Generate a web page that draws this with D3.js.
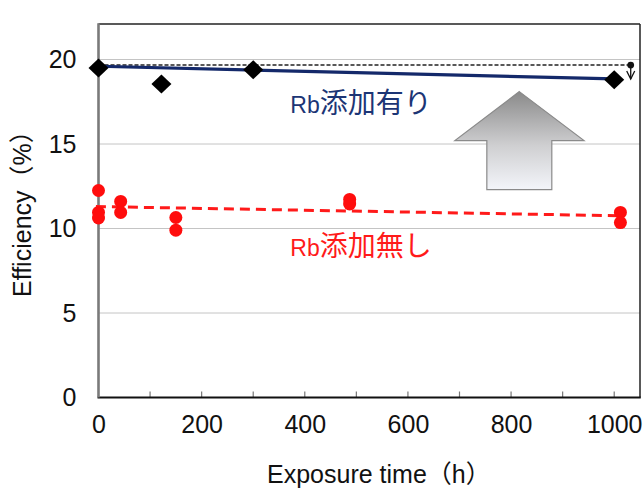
<!DOCTYPE html>
<html><head><meta charset="utf-8">
<script src="https://cdn.jsdelivr.net/npm/d3@7"></script>
<style>
html,body{margin:0;padding:0;background:#fff;}
svg{display:block;}
text{font-family:"Liberation Sans",Arial,"Noto Sans CJK JP",sans-serif;}
</style></head>
<body><svg id="c" width="644" height="489"></svg>
<script>
// ---- data ----
const xTicks = [0, 200, 400, 600, 800, 1000];
const xMinorTicks = [100, 200, 300, 400, 500, 600, 700, 800, 900, 1000];
const yTicks = [0, 5, 10, 15, 20];
const rbHours = [0, 122, 300, 1000];
const rbEff = [19.5, 18.55, 19.4, 18.8];
const noRbHours = [0, 0, 0, 43, 43, 150, 150, 487, 487, 1012, 1012];
const noRbEff = [12.25, 10.95, 10.62, 11.6, 10.95, 10.65, 9.9, 11.72, 11.45, 10.95, 10.35];
const rbFit = [[0, 19.6], [1000, 18.85]];
const noRbFit = [[-5, 11.3], [1015, 10.75]];
const initialLevel = [[0, 19.67], [1030, 19.67]];
const labelRbLatin = "Rb", labelRbJa = "添加有り";
const labelNoRbLatin = "Rb", labelNoRbJa = "添加無し";
const xTitle = "Exposure time（h）";
const yTitle = "Efficiency（%）";

// ---- scales ----
const svg = d3.select("#c");
const x = d3.scaleLinear().domain([0, 1050]).range([98.5, 640]);
const y = d3.scaleLinear().domain([0, 20]).range([397.5, 59.5]);
const yTop = 22.1;

// defs
const defs = svg.append("defs");
const grad = defs.append("linearGradient").attr("id","ag").attr("x1",0).attr("y1",0).attr("x2",0).attr("y2",1);
grad.append("stop").attr("offset","0%").attr("stop-color","#8a8a8a");
grad.append("stop").attr("offset","55%").attr("stop-color","#cfcfd1");
grad.append("stop").attr("offset","100%").attr("stop-color","#f3f5fa");

// gridlines
svg.append("g").selectAll("line").data(yTicks.filter(d=>d>0)).join("line")
  .attr("x1", x(0)).attr("x2", x(1050)).attr("y1", d=>y(d)).attr("y2", d=>y(d))
  .attr("stroke", "#c4c4c4").attr("stroke-width", 1);

// frame top/right
svg.append("line").attr("x1", x(0)).attr("x2", x(1050)).attr("y1", y(yTop)).attr("y2", y(yTop))
  .attr("stroke", "#222").attr("stroke-width", 1.5);
svg.append("line").attr("x1", x(1050)).attr("x2", x(1050)).attr("y1", y(yTop)).attr("y2", y(0))
  .attr("stroke", "#222").attr("stroke-width", 1.5);

// x axis
const xAxis = d3.axisBottom(x).tickValues(xTicks).tickSize(0).tickPadding(18).tickFormat(d3.format("d"));
const gx = svg.append("g").attr("transform", `translate(0,${y(0)})`).call(xAxis);
gx.select(".domain").remove();
gx.selectAll("text").attr("font-size", 25).attr("fill", "#111");
svg.append("g").selectAll("line").data(xMinorTicks).join("line")
  .attr("x1", d=>x(d)).attr("x2", d=>x(d)).attr("y1", y(0)).attr("y2", y(0)-6)
  .attr("stroke", "#777").attr("stroke-width", 1.2);
svg.append("line").attr("x1", x(0)-1).attr("x2", x(1050)+0.75).attr("y1", y(0)).attr("y2", y(0))
  .attr("stroke", "#111").attr("stroke-width", 2.2);

// y axis
const yAxis = d3.axisLeft(y).tickValues(yTicks).tickSize(0).tickPadding(22);
const gy = svg.append("g").attr("transform", `translate(${x(0)},0)`).call(yAxis);
gy.select(".domain").remove();
gy.selectAll("text").attr("font-size", 25).attr("fill", "#111");
svg.append("line").attr("x1", x(0)).attr("x2", x(0)).attr("y1", y(yTop)-0.75).attr("y2", y(0))
  .attr("stroke", "#7a7a7a").attr("stroke-width", 2.6);

// axis titles
svg.append("text").attr("x", 267).attr("y", 483).attr("text-anchor","start")
  .attr("font-size", 25).attr("fill", "#111").text(xTitle);
svg.append("text").attr("transform", "translate(31,297) rotate(-90)").attr("text-anchor","start")
  .attr("font-size", 25).attr("fill", "#111").text(yTitle);

// block arrow (annotation, in data coords)
const arrowPts = [[816,18.1],[941.5,15.2],[879,15.2],[879,12.3],[753,12.3],[753,15.2],[691,15.2]];
svg.append("polygon").attr("points", arrowPts.map(p=>[x(p[0]),y(p[1])].join(",")).join(" "))
  .attr("fill", "url(#ag)").attr("stroke", "#8a8a8a").attr("stroke-width", 1.2);

// initial level dashed line
const line = d3.line().x(d=>x(d[0])).y(d=>y(d[1]));
svg.append("path").attr("d", line(initialLevel)).attr("fill","none")
  .attr("stroke", "#222").attr("stroke-width", 1.5).attr("stroke-dasharray", "4,2");

// small down arrow
const ax = 1032;
svg.append("circle").attr("cx", x(ax)).attr("cy", y(19.67)).attr("r", 3.4).attr("fill", "#111");
svg.append("line").attr("x1", x(ax)).attr("x2", x(ax)).attr("y1", y(19.67)).attr("y2", y(18.85))
  .attr("stroke", "#111").attr("stroke-width", 1.3);
svg.append("path").attr("d", `M${x(ax)-4},${y(18.85)-8} L${x(ax)},${y(18.85)} L${x(ax)+4},${y(18.85)-8}`)
  .attr("fill","none").attr("stroke","#111").attr("stroke-width",1.3);

// red fit line
svg.append("path").attr("d", line(noRbFit)).attr("fill","none")
  .attr("stroke", "#ff1a1a").attr("stroke-width", 3).attr("stroke-dasharray", "10,6");

// red points
svg.append("g").selectAll("circle").data(noRbHours.map((h,i)=>[h,noRbEff[i]])).join("circle")
  .attr("cx", d=>x(d[0])).attr("cy", d=>y(d[1])).attr("r", 6.5).attr("fill", "#ff0d0d");

// blue fit line
svg.append("path").attr("d", line(rbFit)).attr("fill","none")
  .attr("stroke", "#14296a").attr("stroke-width", 3.2);

// diamonds
const dw = 10, dh = 9.5;
svg.append("g").selectAll("path").data(rbHours.map((h,i)=>[h,rbEff[i]])).join("path")
  .attr("d", `M0,${-dh} L${dw},0 L0,${dh} L${-dw},0 Z`)
  .attr("transform", d=>`translate(${x(d[0])},${y(d[1])})`)
  .attr("fill", "#000");

// labels
function label(yy, latin, ja, color) {
  const t = svg.append("text").attr("x", 361).attr("y", yy).attr("text-anchor","middle").attr("fill", color);
  t.append("tspan").attr("font-size", 23).text(latin);
  t.append("tspan").attr("font-size", 28).attr("font-family", "'Noto Sans CJK JP',sans-serif").text(ja);
}
label(113, labelRbLatin, labelRbJa, "#1c3575");
label(256, labelNoRbLatin, labelNoRbJa, "#ff1a1a");
</script></body></html>
